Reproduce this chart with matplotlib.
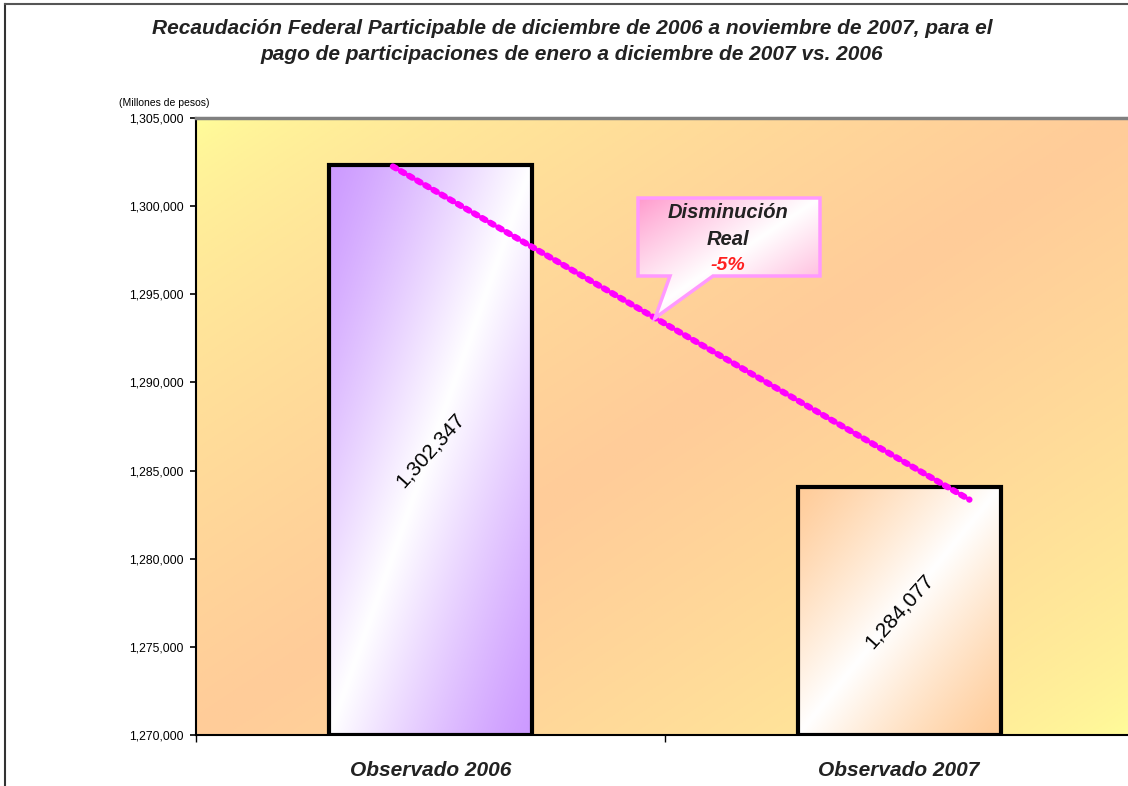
import numpy as np
import matplotlib
matplotlib.use("Agg")
import matplotlib.pyplot as plt
from matplotlib.patches import Polygon
from matplotlib.lines import Line2D
from matplotlib.ticker import FuncFormatter

# ---- data ----
categories = ["Observado 2006", "Observado 2007"]
values = [1302347, 1284077]
value_labels = ["1,302,347", "1,284,077"]
yticks = [1270000, 1275000, 1280000, 1285000, 1290000, 1295000, 1300000, 1305000]
title = ("Recaudación Federal Participable de diciembre de 2006 a noviembre de 2007, para el\n"
         "pago de participaciones de enero a diciembre de 2007 vs. 2006")
callout_lines = ["Disminución", "Real", "-5%"]

plt.rcParams['font.family'] = ['Liberation Sans', 'DejaVu Sans']

W, H = 1128, 786
fig = plt.figure(figsize=(W / 100, H / 100), dpi=100)
fig.patch.set_facecolor('white')

def fx(px):
    return px / W

def fy(py):
    return 1 - py / H

ax = fig.add_axes([fx(196), fy(735), (1133.5 - 196) / W, (735 - 118) / H])


def diag_gradient(c_edge, c_mid, n=300, power=1.0):
    u = np.linspace(0, 1, n)[None, :]
    v = np.linspace(0, 1, n)[:, None]
    t = (u + v) / 2
    w = (1 - np.abs(2 * t - 1)) ** power
    c_edge = np.array(c_edge) / 255.0
    c_mid = np.array(c_mid) / 255.0
    img = c_edge[None, None, :] * (1 - w[..., None]) + c_mid[None, None, :] * w[..., None]
    return img

# background gradient
bg = diag_gradient((255, 255, 153), (255, 204, 153), power=0.6)
ax.imshow(bg, extent=[0, 1, 0, 1], transform=ax.transAxes, aspect='auto',
          zorder=0, origin='upper')

x = np.arange(len(categories))
width = 0.433
ymin, ymax = 1270000, 1305000

bar_colors = [(204, 153, 255), (255, 204, 153)]
bars = ax.bar(x, [v - ymin for v in values], bottom=ymin, width=width,
              facecolor='none', edgecolor='black', linewidth=3, zorder=3)
for b, col in zip(bars, bar_colors):
    g = diag_gradient(col, (255, 255, 255), power=1.2)
    ax.imshow(g, extent=[b.get_x(), b.get_x() + b.get_width(), b.get_y(), b.get_y() + b.get_height()],
              aspect='auto', zorder=2, origin='upper')

# value labels
for xi, v, lab in zip(x, values, value_labels):
    ax.text(xi, (ymin + v) / 2, lab, rotation=48,
            ha='center', va='center', fontsize=15, color='black', zorder=5,
            rotation_mode='anchor')

# dotted trend line
ax.plot([-0.08, 1.15], [1302250, 1283350], color='#FF00FF', linestyle=(0, (0.6, 0.9)),
        linewidth=4.5, zorder=4, solid_capstyle='round', dash_capstyle='round')

ax.set_xlim(-0.5, 1.5)
ax.set_ylim(ymin, ymax)
ax.set_yticks(yticks)
ax.yaxis.set_major_formatter(FuncFormatter(lambda v, p: f"{int(v):,}"))
ax.tick_params(axis='y', labelsize=8.8, length=4, width=1.2, direction='out', pad=5)
ax.set_xticks(x)
ax.set_xticklabels(categories, fontsize=15, fontweight='bold', fontstyle='italic', color='#222222')
ax.tick_params(axis='x', which='major', length=0, pad=19)
ax.set_xticks([-0.5, 0.5, 1.5], minor=True)
ax.tick_params(axis='x', which='minor', length=5, width=1.0, direction='out')

ax.spines['top'].set_color('#808080')
ax.spines['top'].set_linewidth(2.5)
ax.spines['left'].set_linewidth(1.5)
ax.spines['bottom'].set_linewidth(1.5)
ax.spines['right'].set_visible(False)

# y unit label
fig.text(fx(119), fy(103), "(Millones de pesos)", fontsize=7.5, ha='left', va='center')

# title
fig.text(fx(572), fy(41.5), title, ha='center', va='center', fontsize=15,
         fontweight='bold', fontstyle='italic', linespacing=1.45, color='#222222')

# callout
poly_px = [(638, 198), (820, 198), (820, 276), (713, 276), (655, 318), (670, 276), (638, 276)]
poly = Polygon([(fx(a), fy(b)) for a, b in poly_px], closed=True, transform=fig.transFigure,
               facecolor='none', edgecolor='#FF99FF', linewidth=2.5, zorder=10)
fig.add_artist(poly)
cg = diag_gradient((255, 153, 204), (255, 255, 255), power=0.9)
cax_img = ax.imshow(cg, extent=[fx(638), fx(820), fy(318), fy(198)], transform=fig.transFigure,
                    aspect='auto', zorder=9, origin='upper', clip_on=True)
clip_poly = Polygon([(fx(a), fy(b)) for a, b in poly_px], closed=True, transform=fig.transFigure)
cax_img.set_clip_path(clip_poly)
ax.set_xlim(-0.5, 1.5)
ax.set_ylim(ymin, ymax)

fig.text(fx(728), fy(212), callout_lines[0], ha='center', va='center', fontsize=14.5,
         fontweight='bold', fontstyle='italic', color='#222222', zorder=11)
fig.text(fx(728), fy(239), callout_lines[1], ha='center', va='center', fontsize=14.5,
         fontweight='bold', fontstyle='italic', color='#222222', zorder=11)
fig.text(fx(728), fy(265), callout_lines[2], ha='center', va='center', fontsize=14,
         fontweight='bold', fontstyle='italic', color='#FF2020', zorder=11)

# outer frame lines
fig.add_artist(Line2D([fx(5), fx(5)], [fy(4), 0], transform=fig.transFigure, color='#333333', linewidth=1.5))
fig.add_artist(Line2D([fx(5), 1], [fy(4), fy(4)], transform=fig.transFigure, color='#555555', linewidth=1.5))

fig.savefig("out.png", dpi=100)
